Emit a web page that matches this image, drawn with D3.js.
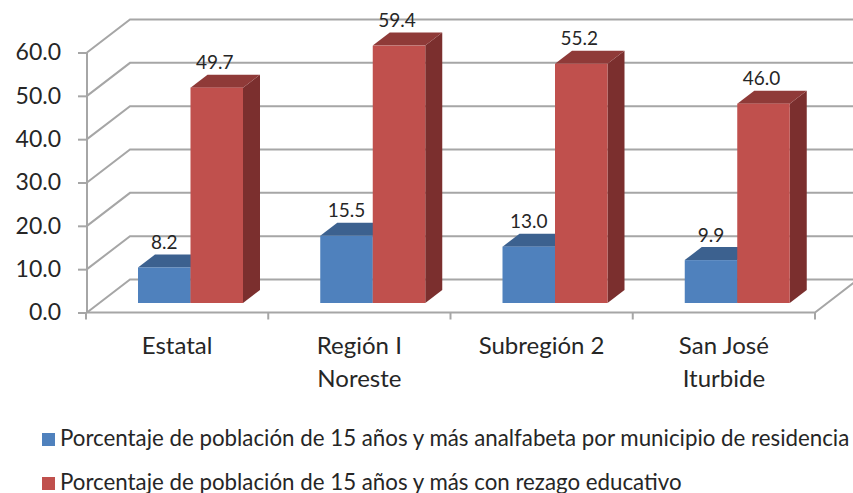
<!DOCTYPE html>
<html><head><meta charset="utf-8">
<style>html,body{margin:0;padding:0;background:#fff}svg{display:block}text{font-family:Lato,"Open Sans",sans-serif;fill:#262626}</style>
<script src="https://cdnjs.cloudflare.com/ajax/libs/d3/7.8.5/d3.min.js"></script>
</head><body><svg width="853" height="493"></svg>
<script>
const categories=[["Estatal"],["Región I","Noreste"],["Subregión 2"],["San José","Iturbide"]];
const analfabeta=[8.2,15.5,13.0,9.9];
const rezago=[49.7,59.4,55.2,46.0];
const labels=["Porcentaje de población de 15 años y más analfabeta por municipio de residencia","Porcentaje de población de 15 años y más con rezago educativo"];
const yTicks=[0,10,20,30,40,50,60];
const seriesColors=[{front:"#4f81bd",top:"#3c618f",side:"#2f4d72"},{front:"#c0504d",top:"#8f3a38",side:"#7b2f2e"}];
const gridColor="#a6a6a6";
const wallDX=43,wallDY=-33,barDX=17,barDY=-13,baseOffset=-9.5,barLeft=52;

const svg=d3.select("svg");
const x=d3.scaleBand().domain(d3.range(categories.length)).range([86,815]);
const y=d3.scaleLinear().domain([0,60]).range([312.5,52.5]);
const inner=d3.scaleBand().domain([0,1]).range([0,105]);

const grid=svg.append("g").attr("fill","none").attr("stroke",gridColor).attr("stroke-width",2);
grid.selectAll(".g").data(yTicks).join("path").attr("d",v=>`M87,${y(v)}L${87+wallDX},${y(v)+wallDY}L858,${y(v)+wallDY}`);
grid.append("path").attr("d",`M87,${y(0)}L815,${y(0)}L${815+wallDX},${y(0)+wallDY}`);
grid.append("path").attr("d",`M87,${y(60)}L87,${y(0)}`);

const axisY=svg.append("g").attr("transform","translate(87,0)").call(d3.axisLeft(y).tickValues(yTicks).tickFormat(d3.format(".1f")).tickSize(9).tickPadding(17));
axisY.select(".domain").remove();
axisY.selectAll("line").attr("stroke",gridColor).attr("stroke-width",2);
axisY.selectAll("text").attr("font-size",23).style("font-family","Lato").attr("fill","#262626");

const axisX=svg.append("g").attr("transform",`translate(0,${y(0)})`);
axisX.selectAll("line").data([...d3.range(categories.length).map(i=>x(i)),815]).join("line")
 .attr("x1",d=>d).attr("x2",d=>d).attr("y1",0).attr("y2",7).attr("stroke",gridColor).attr("stroke-width",2);

const base=y(0)+baseOffset;
const h=v=>y(0)-y(v);
[analfabeta,rezago].forEach((vals,s)=>{
 const g=svg.append("g");
 vals.forEach((v,i)=>{
  const c=seriesColors[s];
  const l=x(i)+barLeft+inner(s),w=inner.bandwidth(),t=base-h(v),r=l+w;
  g.append("path").attr("fill",c.side).attr("d",`M${r},${t}L${r+barDX},${t+barDY}L${r+barDX},${base+barDY}L${r},${base}Z`);
  g.append("path").attr("fill",c.top).attr("d",`M${l},${t}L${l+barDX},${t+barDY}L${r+barDX},${t+barDY}L${r},${t}Z`);
  g.append("rect").attr("fill",c.front).attr("x",l).attr("y",t).attr("width",w).attr("height",base-t);
 });
});
[analfabeta,rezago].forEach((vals,s)=>{
 svg.append("g").selectAll("text").data(vals).join("text")
  .attr("x",(v,i)=>x(i)+barLeft+inner(s)+inner.bandwidth()/2+(s?-2:0))
  .attr("y",v=>base-h(v)+barDY-5.5).attr("text-anchor","middle").attr("font-size",19)
  .text(d3.format(".1f"));
});
const cat=svg.append("g").selectAll("text").data(categories).join("text")
 .attr("text-anchor","middle").attr("font-size",24);
cat.each(function(lines,i){
 d3.select(this).selectAll("tspan").data(lines).join("tspan")
  .attr("x",x(i)+x.bandwidth()/2).attr("y",(d,j)=>354+j*32.5).text(d=>d);
});
const legendY=d3.scaleOrdinal().domain([0,1]).range([439.5,483.5]);
labels.forEach((t,i)=>{
 svg.append("rect").attr("x",42).attr("y",legendY(i)-6.5).attr("width",13).attr("height",13).attr("fill",seriesColors[i].front);
 svg.append("text").attr("x",60).attr("y",legendY(i)+6).attr("font-size",22.3).text(t);
});
</script></body></html>
